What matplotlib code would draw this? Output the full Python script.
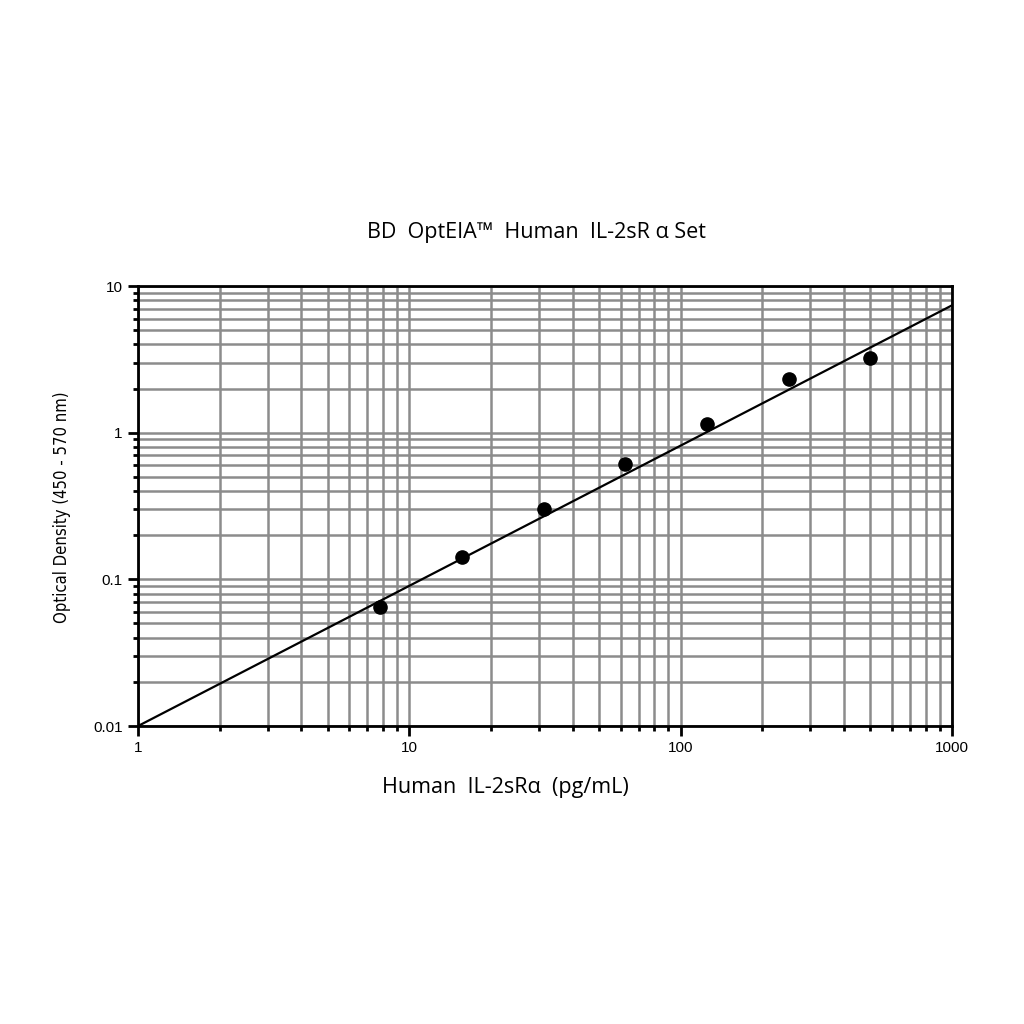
import matplotlib
matplotlib.use('Agg')
import matplotlib.pyplot as plt
from matplotlib.ticker import LogLocator, FixedLocator, FixedFormatter, NullFormatter

# standards (pg/mL) and measured OD
conc = [7.8, 15.6, 31.25, 62.5, 125, 250, 500]
od = [0.065, 0.142, 0.302, 0.61, 1.15, 2.32, 3.23]

# fitted standard curve
fit_x = [1, 10, 100, 1000]
fit_y = [0.0100, 0.0904, 0.817, 7.39]

x_ticks = [1, 10, 100, 1000]
x_labels = ['1', '10', '100', '1000']
y_ticks = [0.01, 0.1, 1, 10]
y_labels = ['0.01', '0.1', '1', '10']

grid_col = '#8c8c8c'

fig = plt.figure(figsize=(10.24, 10.24), dpi=100)
ax = fig.add_axes([0.1348, 0.291, 0.795, 0.4297])

ax.set_xscale('log')
ax.set_yscale('log')
ax.set_xlim(1, 1000)
ax.set_ylim(0.01, 10)

ax.xaxis.set_major_locator(FixedLocator(x_ticks))
ax.xaxis.set_major_formatter(FixedFormatter(x_labels))
ax.yaxis.set_major_locator(FixedLocator(y_ticks))
ax.yaxis.set_major_formatter(FixedFormatter(y_labels))
ax.xaxis.set_minor_locator(LogLocator(base=10, subs=range(2, 10)))
ax.yaxis.set_minor_locator(LogLocator(base=10, subs=range(2, 10)))
ax.xaxis.set_minor_formatter(NullFormatter())
ax.yaxis.set_minor_formatter(NullFormatter())

ax.grid(True, which='both', color=grid_col, linewidth=1.8)
ax.set_axisbelow(True)

ax.tick_params(which='major', direction='out', length=7, width=2, labelsize=11, pad=4)
ax.tick_params(which='minor', direction='out', length=3.5, width=2)
for lab in ax.get_xticklabels() + ax.get_yticklabels():
    lab.set_family('Liberation Sans')

for sp in ax.spines.values():
    sp.set_linewidth(2)
    sp.set_color('black')

ax.plot(fit_x, fit_y, color='black', linewidth=1.6, zorder=3)
ax.plot(conc, od, 'o', color='black', markersize=9.5, zorder=4, clip_on=False)

fig.text(0.5235, 0.773, 'BD  OptEIA\u2122  Human  IL-2sR \u03b1 Set', ha='center', va='center',
         fontsize=15.5, family='Open Sans')
fig.text(0.494, 0.231, 'Human  IL-2sR\u03b1  (pg/mL)', ha='center', va='center',
         fontsize=15.5, family='Open Sans')
fig.text(0.0605, 0.505, 'Optical Density (450 - 570 nm)', ha='center', va='center',
         rotation=90, fontsize=12, family='DejaVu Sans', fontstretch='condensed')

fig.savefig('out.png', dpi=100)
